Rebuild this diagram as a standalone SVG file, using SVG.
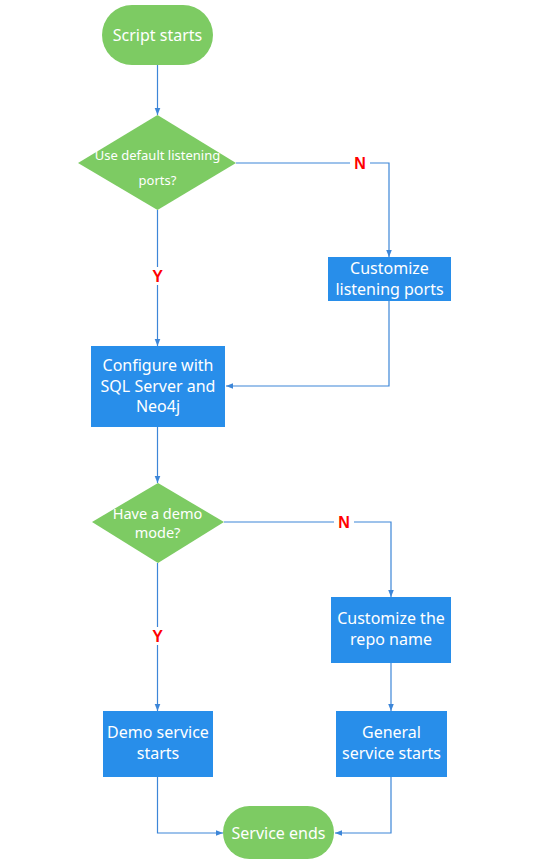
<svg xmlns="http://www.w3.org/2000/svg" width="540" height="864" viewBox="0 0 540 864">
<defs>
<style>
.term{fill:#7dcb63}
.dec{fill:#7dcb63}
.proc{fill:#288eea}
.t{font-family:"Noto Sans","Open Sans",sans-serif;fill:#ffffff;text-anchor:middle;dominant-baseline:central}
.t16{font-size:16px}
.t13{font-size:13px}
.t14{font-size:14.5px}
.lbl{font-family:"Liberation Sans",Arial,sans-serif;font-weight:bold;font-size:16px;fill:#ff0000;text-anchor:middle;dominant-baseline:central}
.c{fill:none;stroke:#3d86d8;stroke-width:1.2}
</style>
<marker id="ah" viewBox="0 0 10 10" refX="10" refY="5" markerWidth="7" markerHeight="7" orient="auto" markerUnits="userSpaceOnUse">
<path d="M0,1 L10,5 L0,9 z" fill="#3d86d8"/>
</marker>
</defs>
<rect width="540" height="864" fill="#ffffff"/>
<g id="connectors">
<path class="c" d="M157.5,65 V115" marker-end="url(#ah)"/>
<path class="c" d="M236,163 H389 V257" marker-end="url(#ah)"/>
<path class="c" d="M157.5,210 V346" marker-end="url(#ah)"/>
<path class="c" d="M389,301 V386 H226" marker-end="url(#ah)"/>
<path class="c" d="M157.5,427 V483" marker-end="url(#ah)"/>
<path class="c" d="M224,522 H391 V597" marker-end="url(#ah)"/>
<path class="c" d="M157.5,563 V711" marker-end="url(#ah)"/>
<path class="c" d="M391,663 V711" marker-end="url(#ah)"/>
<path class="c" d="M157.5,777 V833 H223" marker-end="url(#ah)"/>
<path class="c" d="M391,777 V833 H335" marker-end="url(#ah)"/>
<rect x="350" y="154" width="20" height="18" fill="#ffffff"/>
<text class="lbl" x="360" y="163">N</text>
<rect x="148" y="267" width="19" height="18" fill="#ffffff"/>
<text class="lbl" x="157.5" y="276">Y</text>
<rect x="334" y="513" width="20" height="18" fill="#ffffff"/>
<text class="lbl" x="344" y="522">N</text>
<rect x="148" y="627" width="19" height="18" fill="#ffffff"/>
<text class="lbl" x="157.5" y="636">Y</text>
</g>
<g id="start">
<rect class="term" x="102" y="5" width="111" height="60" rx="30" ry="30"/>
<text class="t t16" x="157.5" y="35">Script starts</text>
</g>
<g id="dec1">
<polygon class="dec" points="157.5,115 236,163 157.5,210 78,163"/>
<text class="t t13" x="157.5" y="155">Use default listening</text>
<text class="t t13" x="157.5" y="180">ports?</text>
</g>
<g id="custports">
<rect class="proc" x="328" y="257" width="123" height="44"/>
<text class="t t16" x="389.5" y="268">Customize</text>
<text class="t t16" x="389.5" y="289">listening ports</text>
</g>
<g id="config">
<rect class="proc" x="91" y="346" width="134" height="81"/>
<text class="t t16" x="158" y="365">Configure with</text>
<text class="t t16" x="158" y="385.5">SQL Server and</text>
<text class="t t16" x="158" y="406">Neo4j</text>
</g>
<g id="dec2">
<polygon class="dec" points="158,483 224,522 158,563 92,522"/>
<text class="t t14" x="157.5" y="513">Have a demo</text>
<text class="t t14" x="157.5" y="532">mode?</text>
</g>
<g id="custrepo">
<rect class="proc" x="331" y="597" width="120" height="66"/>
<text class="t t16" x="391" y="618">Customize the</text>
<text class="t t16" x="391" y="639">repo name</text>
</g>
<g id="demo">
<rect class="proc" x="103" y="711" width="110" height="66"/>
<text class="t t16" x="158" y="732">Demo service</text>
<text class="t t16" x="158" y="753">starts</text>
</g>
<g id="general">
<rect class="proc" x="336" y="711" width="111" height="66"/>
<text class="t t16" x="391.5" y="732">General</text>
<text class="t t16" x="391.5" y="753">service starts</text>
</g>
<g id="end">
<rect class="term" x="223" y="806" width="111" height="53" rx="26.5" ry="26.5"/>
<text class="t t16" x="278.5" y="832.5">Service ends</text>
</g>
</svg>
